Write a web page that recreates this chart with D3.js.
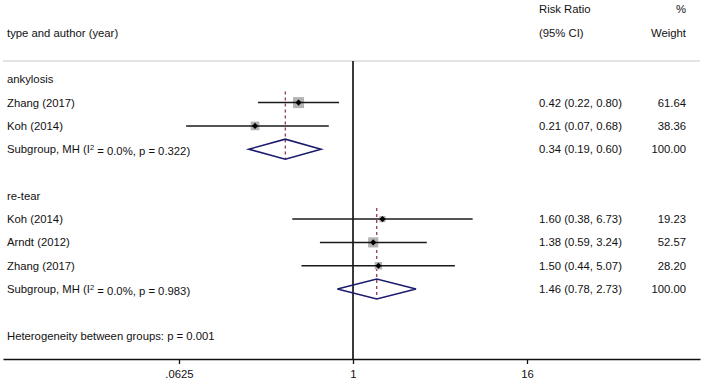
<!DOCTYPE html>
<html>
<head>
<meta charset="utf-8">
<script src="https://cdn.jsdelivr.net/npm/d3@7"></script>
<style>
    body { margin: 0; background: #fff; }
    text { font-family: 'Liberation Sans', Arial, sans-serif; font-size: 11.3px; fill: #111; }
</style>
</head>
<body>
<div id="chart"></div>
<script>
// Data
const groups = ['ankylosis', 're-tear'];
const studies = ['Zhang (2017)', 'Koh (2014)', 'Koh (2014)', 'Arndt (2012)', 'Zhang (2017)'];
const studyGroup = [0, 0, 1, 1, 1];
const rr = [0.42, 0.21, 1.60, 1.38, 1.50];
const lower = [0.22, 0.07, 0.38, 0.59, 0.44];
const upper = [0.80, 0.68, 6.73, 3.24, 5.07];
const weight = [61.64, 38.36, 19.23, 52.57, 28.20];
const subRR = [0.34, 1.46];
const subLower = [0.19, 0.78];
const subUpper = [0.60, 2.73];
const subI2 = ['0.0%', '0.0%'];
const subP = ['0.322', '0.983'];
const subWeight = [100.00, 100.00];
const heterogeneityP = '0.001';
const tickValues = [0.0625, 1, 16];
const tickLabels = ['.0625', '1', '16'];

const width = 704;
const height = 384;

const fmt = d3.format('.2f');
const ciText = (e, l, u) => `${fmt(e)} (${fmt(l)}, ${fmt(u)})`;

// Build row list
let rows = [];
groups.forEach((g, gi) => {
    rows.push({ type: 'group', label: g, group: gi });
    studies.forEach((s, i) => {
        if (studyGroup[i] === gi) {
            rows.push({ type: 'study', label: s, group: gi, est: rr[i], lo: lower[i], hi: upper[i], w: weight[i] });
        }
    });
    rows.push({ type: 'sub', group: gi, est: subRR[gi], lo: subLower[gi], hi: subUpper[gi], w: subWeight[gi] });
    rows.push({ type: 'blank' });
});
rows.push({ type: 'het' });
rows.forEach((r, i) => r.index = i);

// Scales
const y = d3.scaleLinear()
    .domain([0, rows.length - 1])
    .range([79.3, 335.6]);

const xBase = d3.scaleLog().base(2)
    .domain([1 / 16, 16])
    .range([179, 527]);

const x = xBase.copy()
    .domain([xBase.invert(3), xBase.invert(700)])
    .range([3, 700]);

const size = d3.scaleSqrt().domain([0, 100]).range([0, 14]);

const svg = d3.select('#chart')
    .append('svg')
    .attr('width', width)
    .attr('height', height);

// Header
const header = svg.append('g').attr('class', 'header');
header.append('text').attr('x', 7).attr('y', y(-2)).attr('dy', '0.35em').text('type and author (year)');
header.append('text').attr('x', 539).attr('y', y(-3)).attr('dy', '0.35em').text('Risk Ratio');
header.append('text').attr('x', 539).attr('y', y(-2)).attr('dy', '0.35em').text('(95% CI)');
header.append('text').attr('x', 686).attr('y', y(-3)).attr('dy', '0.35em').attr('text-anchor', 'end').text('%');
header.append('text').attr('x', 686).attr('y', y(-2)).attr('dy', '0.35em').attr('text-anchor', 'end').text('Weight');

// Separator line
svg.append('line')
    .attr('x1', 3).attr('x2', 700)
    .attr('y1', 61).attr('y2', 61)
    .attr('stroke', '#c8c8c8')
    .attr('stroke-width', 1.2);

// No-effect line
const axisY = 359;
svg.append('line')
    .attr('x1', x(1)).attr('x2', x(1))
    .attr('y1', 61).attr('y2', axisY)
    .attr('stroke', '#3a3a3a')
    .attr('stroke-width', 2);

// Subgroup dashed lines
groups.forEach((g, gi) => {
    const groupRows = rows.filter(r => r.group === gi && r.type !== 'group');
    const first = groupRows[0];
    const sub = groupRows.find(r => r.type === 'sub');
    svg.append('line')
        .attr('x1', x(sub.est)).attr('x2', x(sub.est))
        .attr('y1', y(first.index) - 11)
        .attr('y2', y(sub.index) + 10)
        .attr('stroke', '#8c2b3d')
        .attr('stroke-width', 1.2)
        .attr('stroke-dasharray', '3,3');
});

// Left labels
const labels = svg.append('g').attr('class', 'labels');
rows.forEach(r => {
    if (r.type === 'group' || r.type === 'study') {
        labels.append('text').attr('x', 7).attr('y', y(r.index)).attr('dy', '0.35em').text(r.label);
    } else if (r.type === 'sub') {
        const t = labels.append('text').attr('x', 7).attr('y', y(r.index)).attr('dy', '0.35em');
        t.append('tspan').text('Subgroup, MH (I');
        t.append('tspan').attr('dy', '-0.45em').style('font-size', '7.5px').text('2');
        t.append('tspan').attr('dy', '0.45em').text(` = ${subI2[r.group]}, p = ${subP[r.group]})`);
    } else if (r.type === 'het') {
        labels.append('text').attr('x', 7).attr('y', y(r.index)).attr('dy', '0.35em')
            .text(`Heterogeneity between groups: p = ${heterogeneityP}`);
    }
});

// Right columns
const cols = svg.append('g').attr('class', 'cols');
rows.filter(r => r.type === 'study' || r.type === 'sub').forEach(r => {
    cols.append('text').attr('x', 539).attr('y', y(r.index)).attr('dy', '0.35em').text(ciText(r.est, r.lo, r.hi));
    cols.append('text').attr('x', 686).attr('y', y(r.index)).attr('dy', '0.35em')
        .attr('text-anchor', 'end').text(fmt(r.w));
});

// Studies: weight boxes, CI lines, point markers
const studyRows = rows.filter(r => r.type === 'study');
const marks = svg.append('g').attr('class', 'marks');

marks.selectAll('rect')
    .data(studyRows)
    .join('rect')
    .attr('x', d => x(d.est) - size(d.w) / 2)
    .attr('y', d => y(d.index) - size(d.w) / 2)
    .attr('width', d => size(d.w))
    .attr('height', d => size(d.w))
    .attr('fill', '#b3b3b3');

marks.selectAll('line')
    .data(studyRows)
    .join('line')
    .attr('x1', d => x(d.lo))
    .attr('x2', d => x(d.hi))
    .attr('y1', d => y(d.index))
    .attr('y2', d => y(d.index))
    .attr('stroke', '#1a1a1a')
    .attr('stroke-width', 1.5);

const dotShape = d3.symbolDiamond2 || d3.symbolCircle;
marks.selectAll('path')
    .data(studyRows)
    .join('path')
    .attr('transform', d => `translate(${x(d.est)},${y(d.index)})`)
    .attr('d', d3.symbol(dotShape, 24))
    .attr('fill', '#000');

// Subgroup diamonds
const subRows = rows.filter(r => r.type === 'sub');
svg.append('g')
    .selectAll('path')
    .data(subRows)
    .join('path')
    .attr('d', d => {
        const cy = y(d.index);
        return `M${x(d.lo)},${cy}L${x(d.est)},${cy - 10}L${x(d.hi)},${cy}L${x(d.est)},${cy + 10}Z`;
    })
    .attr('fill', 'none')
    .attr('stroke', '#1c1c6e')
    .attr('stroke-width', 1.6);

// X axis
const xAxis = svg.append('g')
    .attr('class', 'x-axis')
    .attr('transform', `translate(0,${axisY})`)
    .call(d3.axisBottom(x)
        .tickValues(tickValues)
        .tickFormat((d, i) => tickLabels[i])
        .tickSizeOuter(0)
        .tickSizeInner(5)
        .tickPadding(6));

xAxis.select('.domain').attr('stroke', '#111').attr('stroke-width', 1.3);
xAxis.selectAll('.tick line').attr('stroke', '#111').attr('stroke-width', 1.3);
xAxis.selectAll('.tick text')
    .attr('font-family', null)
    .attr('font-size', null)
    .attr('fill', null);
</script>
</body>
</html>
